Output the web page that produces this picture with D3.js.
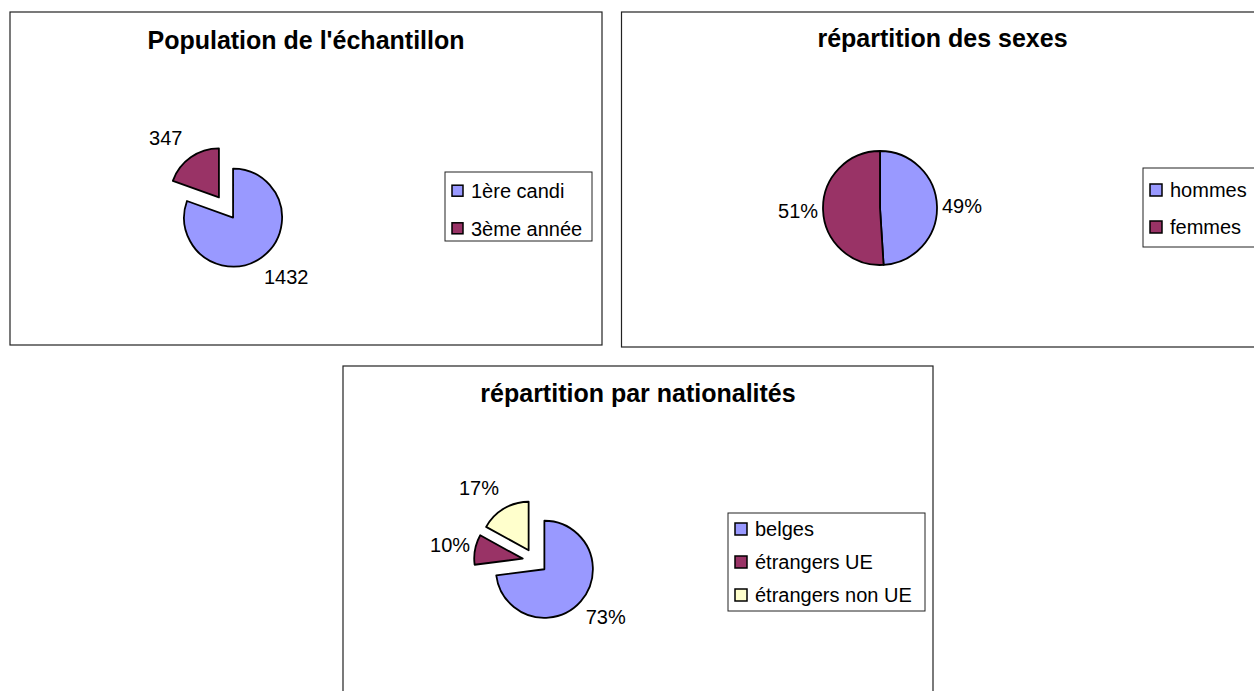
<!DOCTYPE html>
<html>
<head>
    <meta charset="utf-8">
    <title>Echantillon</title>
    <script src="https://d3js.org/d3.v7.min.js"></script>
    <style>
        body { margin: 0; background: #fff; }
        text { font-family: "Liberation Sans", Arial, sans-serif; fill: #000; }
    </style>
</head>
<body>
    <svg id="chart" width="1254" height="691"></svg>

    <script>
        // data
        const popCategories = ["1ère candi", "3ème année"];
        const popValues = [1432, 347];

        const sexCategories = ["hommes", "femmes"];
        const sexValues = [49, 51];

        const natCategories = ["belges", "étrangers UE", "étrangers non UE"];
        const natValues = [73, 10, 17];

        const sliceColors = ["#9999ff", "#993366", "#ffffcc"];

        const svg = d3.select("#chart");

        // layout of the three panels (boxes, pie centre, legend)
        const panels = [
            {
                title: "Population de l'échantillon", cats: popCategories, vals: popValues, fmt: d => d,
                box: {x: 10, y: 12, w: 592, h: 333}, titleY: 49,
                cx: 226, cy: 207.5, r: 49, explode: 12.3,
                legend: {x: 445, y: 172, w: 147, h: 69, first: 190.7, step: 37.6, sw: 11}
            },
            {
                title: "répartition des sexes", cats: sexCategories, vals: sexValues, fmt: d => d + "%",
                box: {x: 621.5, y: 12, w: 642, h: 335}, titleY: 47,
                cx: 880, cy: 208, r: 57, explode: 0,
                legend: {x: 1143, y: 168, w: 130, h: 79, first: 190, step: 37, sw: 12}
            },
            {
                title: "répartition par nationalités", cats: natCategories, vals: natValues, fmt: d => d + "%",
                box: {x: 343, y: 366, w: 590, h: 340}, titleY: 402,
                cx: 535, cy: 561, r: 48.5, explode: 12.5,
                legend: {x: 728, y: 513, w: 197, h: 98, first: 529, step: 33, sw: 12}
            }
        ];

        const color = d3.scaleOrdinal().range(sliceColors);

        function drawPanel(p) {
            const g = svg.append("g");

            g.append("rect")
                .attr("x", p.box.x).attr("y", p.box.y)
                .attr("width", p.box.w).attr("height", p.box.h)
                .attr("fill", "#fff")
                .attr("stroke", "#222")
                .attr("stroke-width", 1.2);

            g.append("text")
                .attr("x", p.box.x + p.box.w / 2)
                .attr("y", p.titleY)
                .attr("text-anchor", "middle")
                .attr("font-weight", "bold")
                .attr("font-size", 25)
                .text(p.title);

            const data = p.cats.map((c, i) => ({cat: c, value: p.vals[i]}));
            color.domain(p.cats);

            const pie = d3.pie().sort(null).value(d => d.value);
            const arc = d3.arc().innerRadius(0).outerRadius(p.r);
            const arcs = pie(data);

            const pieG = g.append("g").attr("transform", `translate(${p.cx},${p.cy})`);

            const mid = d => (d.startAngle + d.endAngle) / 2;
            // each slice pushed out along its middle angle
            const shift = d => [Math.sin(mid(d)) * p.explode, -Math.cos(mid(d)) * p.explode];

            pieG.selectAll("path")
                .data(arcs)
                .join("path")
                .attr("transform", d => `translate(${shift(d)})`)
                .attr("d", arc)
                .attr("fill", d => color(d.data.cat))
                .attr("stroke", "#000")
                .attr("stroke-width", 1.8)
                .attr("stroke-linejoin", "round");

            // value labels sit just outside the rim, text box beside the arc
            pieG.selectAll("text")
                .data(arcs)
                .join("text")
                .attr("x", d => {
                    const s = Math.sin(mid(d));
                    return shift(d)[0] + s * p.r + Math.sign(s) * 25;
                })
                .attr("y", d => shift(d)[1] - Math.cos(mid(d)) * (p.r + 24))
                .attr("dy", "0.36em")
                .attr("text-anchor", "middle")
                .attr("font-size", 20)
                .text(d => p.fmt(d.data.value));

            // legend
            const L = p.legend;
            g.append("rect")
                .attr("x", L.x).attr("y", L.y)
                .attr("width", L.w).attr("height", L.h)
                .attr("fill", "#fff")
                .attr("stroke", "#222")
                .attr("stroke-width", 1);

            const items = g.selectAll(".item")
                .data(p.cats)
                .join("g")
                .attr("class", "item")
                .attr("transform", (d, i) => `translate(${L.x + 7},${L.first + i * L.step})`);

            items.append("rect")
                .attr("x", 0).attr("y", -L.sw / 2)
                .attr("width", L.sw).attr("height", L.sw)
                .attr("fill", d => color(d))
                .attr("stroke", "#000")
                .attr("stroke-width", 1.5);

            items.append("text")
                .attr("x", L.sw + 8)
                .attr("dy", "0.36em")
                .attr("font-size", 20)
                .text(d => d);
        }

        panels.forEach(drawPanel);
    </script>
</body>
</html>
